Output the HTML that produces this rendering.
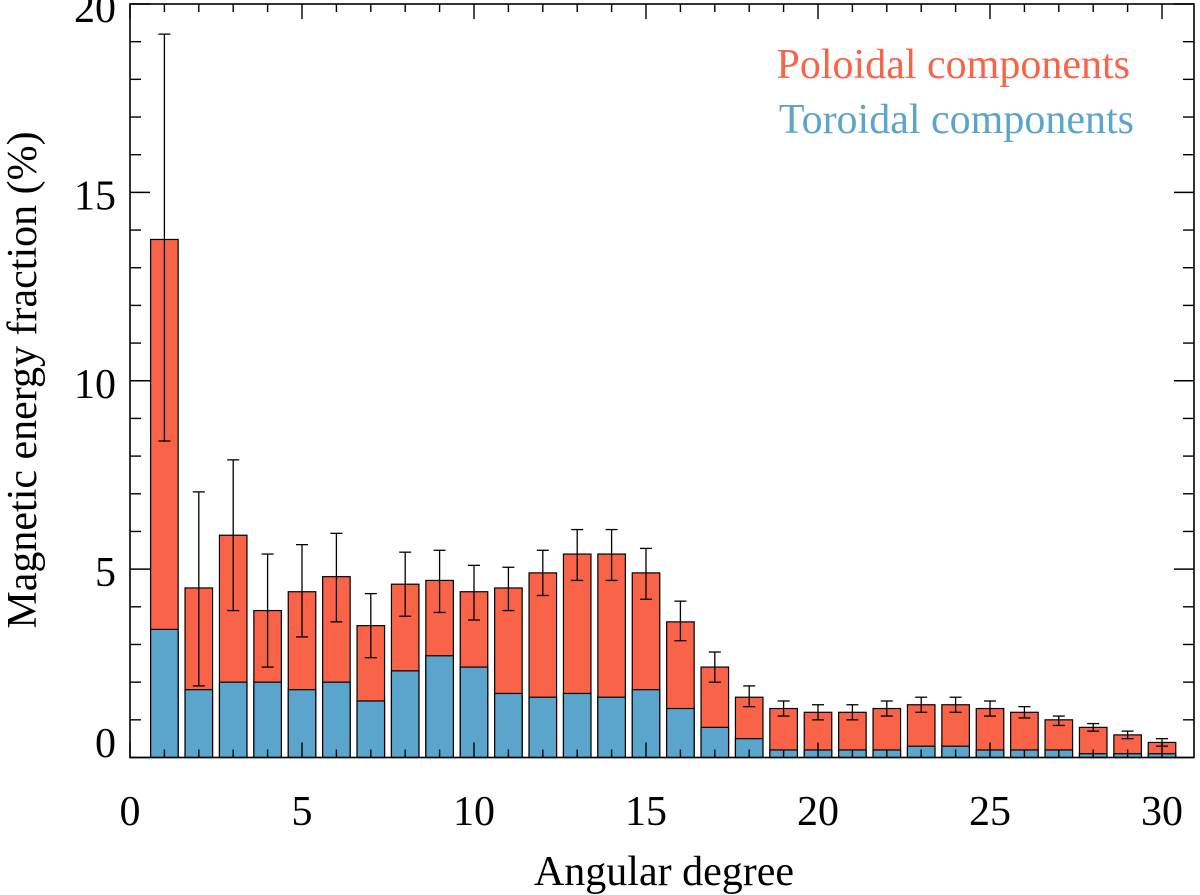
<!DOCTYPE html>
<html><head><meta charset="utf-8"><style>
html,body{margin:0;padding:0;background:#fff;}
svg{display:block;font-family:"Liberation Serif",serif;}
</style></head><body>
<svg id="chart" width="1200" height="895">
</svg>
<script>
const degrees=[1,2,3,4,5,6,7,8,9,10,11,12,13,14,15,16,17,18,19,20,21,22,23,24,25,26,27,28,29,30];
const totalVals=[13.75,4.5,5.9,3.9,4.4,4.8,3.5,4.6,4.7,4.4,4.5,4.9,5.4,5.4,4.9,3.6,2.4,1.6,1.3,1.2,1.2,1.3,1.4,1.4,1.3,1.2,1.0,0.8,0.6,0.4];
const toroidalVals=[3.4,1.8,2.0,2.0,1.8,2.0,1.5,2.3,2.7,2.4,1.7,1.6,1.7,1.6,1.8,1.3,0.8,0.5,0.2,0.2,0.2,0.2,0.3,0.3,0.2,0.2,0.2,0.1,0.1,0.1];
const errLow=[8.4,1.9,3.9,2.4,3.2,3.6,2.65,3.75,3.85,3.65,3.9,4.3,4.7,4.7,4.2,3.1,2.0,1.35,1.1,1.0,1.0,1.1,1.2,1.2,1.1,1.05,0.85,0.7,0.5,0.3];
const errHigh=[19.2,7.05,7.9,5.4,5.65,5.95,4.35,5.45,5.5,5.1,5.05,5.5,6.05,6.05,5.55,4.15,2.8,1.9,1.5,1.4,1.4,1.5,1.6,1.6,1.5,1.35,1.1,0.9,0.7,0.5];
const xTicks=[0,5,10,15,20,25,30];
const yTicks=[0,5,10,15,20];

const L=130,R=1194,T=4,B=757.5;
const XMAX=30.93,YMAX=20;
const sx=v=>L+v*(R-L)/XMAX;
const sy=v=>B-v*(B-T)/YMAX;
const svg=document.getElementById('chart');
const NS='http://www.w3.org/2000/svg';
function mk(tag,attrs,parent){const e=document.createElementNS(NS,tag);for(const k in attrs)e.setAttribute(k,attrs[k]);(parent||svg).appendChild(e);return e;}

const bw=0.8;
degrees.forEach((d,i)=>{
  const x0=sx(d-bw/2),w=sx(d+bw/2)-x0;
  const pol=mk('rect',{x:x0,y:sy(totalVals[i]),width:w,height:sy(0)-sy(totalVals[i]),fill:'#f96449',stroke:'#000','stroke-width':1.2});
  
  
  const tor=mk('rect',{x:x0,y:sy(toroidalVals[i]),width:w,height:sy(0)-sy(toroidalVals[i]),fill:'#5ba5cd',stroke:'#000','stroke-width':1.2});
  
  
  const g=mk('g',{stroke:'#000','stroke-width':1.3});
  
  
  const cx=sx(d),cw=6;
  mk('line',{x1:cx,x2:cx,y1:sy(errLow[i]),y2:sy(errHigh[i])},g);
  mk('line',{x1:cx-cw,x2:cx+cw,y1:sy(errLow[i]),y2:sy(errLow[i])},g);
  mk('line',{x1:cx-cw,x2:cx+cw,y1:sy(errHigh[i]),y2:sy(errHigh[i])},g);
});

const fr=mk('rect',{x:L,y:T,width:R-L,height:B-T,fill:'none',stroke:'#000','stroke-width':1.6});



const tg=mk('g',{stroke:'#000','stroke-width':1.4});
for(let v=0;v<=XMAX;v+=1){const len=v%5===0?15:8;const x=sx(v);
  mk('line',{x1:x,x2:x,y1:B,y2:B-len},tg);mk('line',{x1:x,x2:x,y1:T,y2:T+len},tg);}
for(let v=0;v<=YMAX;v+=1){const len=v%5===0?20:11;const y=sy(v);
  mk('line',{x1:L,x2:L+len,y1:y,y2:y},tg);mk('line',{x1:R,x2:R-len,y1:y,y2:y},tg);}
xTicks.forEach(v=>{const t=mk('text',{x:sx(v),y:825,'font-size':42,'text-anchor':'middle'});t.textContent=v;
  });
yTicks.forEach(v=>{const yy=v===0?757:(v===20?22:sy(v)+17);const t=mk('text',{x:116,y:yy,'font-size':42,'text-anchor':'end'});t.textContent=v;
  });

const xt=mk('text',{x:664,y:885,'font-size':42,'text-anchor':'middle'});xt.textContent='Angular degree';

const yt=mk('text',{x:0,y:0,'font-size':42,'text-anchor':'middle',transform:'translate(36,380) rotate(-90)'});yt.textContent='Magnetic energy fraction (%)';


const l1=mk('text',{x:1130,y:78,'font-size':42,'text-anchor':'end',fill:'#f96449'});l1.textContent='Poloidal components';

const l2=mk('text',{x:1134,y:133,'font-size':42,'text-anchor':'end',fill:'#5ba5cd'});l2.textContent='Toroidal components';

</script>
</body></html>
